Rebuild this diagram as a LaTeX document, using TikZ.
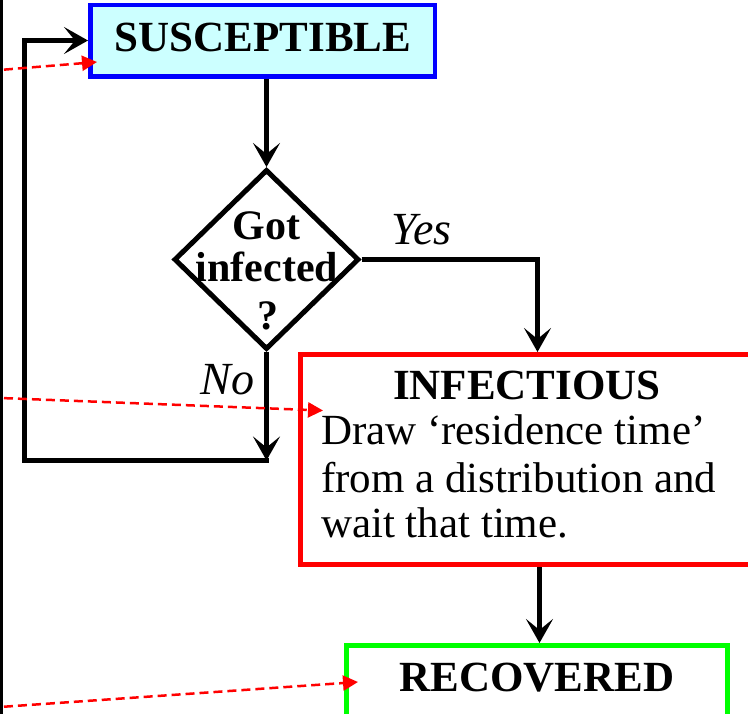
\documentclass[tikz,border=0pt]{standalone}
\usepackage{fontspec}
\setmainfont{Liberation Serif}
\usetikzlibrary{arrows.meta,shapes.geometric}
\definecolor{suscfill}{RGB}{204,255,255}
\definecolor{recgreen}{RGB}{0,255,0}
\tikzset{
  txt/.style={inner sep=0pt, outer sep=0pt, anchor=base},
  hd/.style={txt, font=\fontsize{43}{47}\selectfont\bfseries},
  bodytxt/.style={inner sep=0pt, outer sep=0pt, anchor=base west, font=\fontsize{43}{47}\selectfont},
  dectxt/.style={txt, font=\fontsize{42}{46}\selectfont\bfseries},
  answer/.style={txt, font=\fontsize{46}{50}\selectfont\itshape},
  flow/.style={line width=5pt, line join=miter, -{Stealth[length=24pt,width=27pt,inset=11pt]}},
  link/.style={red, line width=2.5pt, dash pattern=on 9pt off 5pt, -{Triangle[length=15pt,width=15pt]}},
  susbox/.style={draw=blue, fill=suscfill, line width=4.5pt, inner sep=0pt,
                 minimum width=344.5pt, minimum height=71.5pt},
  decbox/.style={draw, diamond, line width=5pt, inner sep=0pt,
                 minimum width=185pt, minimum height=180pt},
  infbox/.style={draw=red, line width=5pt, inner sep=0pt,
                 minimum width=520pt, minimum height=210pt},
  recbox/.style={draw=recgreen, line width=5pt, inner sep=0pt,
                 minimum width=381pt, minimum height=150pt},
}
\begin{document}
\begin{tikzpicture}[x=1pt,y=-1pt]
\useasboundingbox (0,0) rectangle (748,714);
\clip (0,0) rectangle (748,714);

% rail along the left edge
\coordinate (railTop) at (1.5,-5);
\coordinate (railBot) at (1.5,720);
\draw[line width=3pt] (railTop) -- (railBot);

% states and decision
\node[susbox, anchor=north west] (sus) at (88,3) {};
\node[hd] (sustxt) at (263,52) {SUSCEPTIBLE};

\node[decbox] (dec) at (266.5,259.5) {};
\node[dectxt] (dec1) at (266.5,240) {Got};
\node[dectxt] (dec2) at (267,282) {infected};
\node[dectxt] (dec3) at (268,330) {?};

\node[infbox, anchor=north west] (inf) at (298,352) {};
\node[hd] (inftxt) at (527,400) {INFECTIOUS};
\node[bodytxt] (infl1) at (321,445) {Draw ‘residence time’};
\node[bodytxt] (infl2) at (321,492) {from a distribution and};
\node[bodytxt] (infl3) at (321,537) {wait that time.};

\node[recbox, anchor=north west] (rec) at (344,643) {};
\node[hd] (rectxt) at (537,691) {RECOVERED};

% flow arrows
\draw[flow] (sus.south -| dec.north) -- (dec.north);

\coordinate (yesIn) at (537.5,352);
\draw[flow] (dec.east) -| (yesIn);
\node[answer] (yes) at (421.5,245) {Yes};

\coordinate (noEnd) at (268.5,460.5);
\draw[flow] (dec.south) -- (dec.south |- noEnd);
\node[answer] (no) at (227.5,395) {No};

\coordinate (loopBL) at (24.5,460.5);
\coordinate (loopTL) at (24.5,40.5);
\draw[flow] (noEnd) -- (loopBL) -- (loopTL) -- (sus.west |- loopTL);

\coordinate (recIn) at (539.5,643);
\draw[flow] (recIn |- inf.south) -- (recIn);

% links coming in from the left
\coordinate (src1) at (-10,70.8);
\coordinate (tgt1) at (97,62);
\coordinate (src2) at (-10,397.6);
\coordinate (tgt2) at (323,410.5);
\coordinate (src3) at (-10,707.7);
\coordinate (tgt3) at (358,682);
\draw[link] (src1) -- (tgt1);
\draw[link] (src2) -- (tgt2);
\draw[link] (src3) -- (tgt3);
\end{tikzpicture}
\end{document}
